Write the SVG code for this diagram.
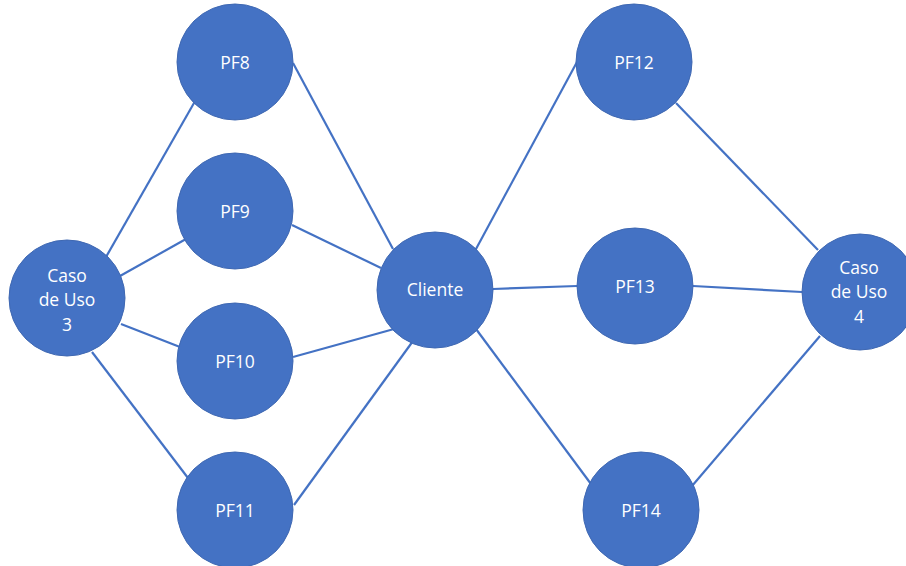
<svg xmlns="http://www.w3.org/2000/svg" width="906" height="566" viewBox="0 0 906 566">
<style>
.n{fill:#4472C4;stroke:#3F68B2;stroke-width:1}
.t{fill:#FFFFFF;font-family:"Open Sans","Liberation Sans",sans-serif;font-size:17.5px;text-anchor:middle}
.e line{stroke:#4472C4;stroke-width:2.2;fill:none}
</style>
<rect width="906" height="566" fill="#FFFFFF"/>
<g id="connectors" class="e">
<line x1="106" y1="257" x2="194" y2="103"/>
<line x1="120" y1="276" x2="186" y2="239"/>
<line x1="121" y1="324" x2="180" y2="347"/>
<line x1="92" y1="352" x2="188" y2="478"/>
<line x1="293" y1="63" x2="393" y2="249"/>
<line x1="292" y1="225" x2="381" y2="268"/>
<line x1="293" y1="357" x2="394" y2="329"/>
<line x1="294" y1="505" x2="413" y2="341"/>
<line x1="476" y1="249" x2="577" y2="62"/>
<line x1="493" y1="289" x2="577" y2="286"/>
<line x1="476" y1="329" x2="591" y2="484"/>
<line x1="676" y1="103" x2="818" y2="250"/>
<line x1="693" y1="286" x2="802" y2="292"/>
<line x1="692" y1="486" x2="820" y2="336"/>
</g>
<g id="cu3"><circle class="n" cx="67" cy="298" r="58"/><text class="t" x="67" y="282">Caso</text><text class="t" x="67" y="306">de Uso</text><text class="t" x="67" y="331">3</text></g>
<g id="pf8"><circle class="n" cx="235" cy="62" r="58"/><text class="t" x="235" y="69">PF8</text></g>
<g id="pf9"><circle class="n" cx="235" cy="211" r="58"/><text class="t" x="235" y="218">PF9</text></g>
<g id="pf10"><circle class="n" cx="235" cy="361" r="58"/><text class="t" x="235" y="368">PF10</text></g>
<g id="pf11"><circle class="n" cx="235" cy="510" r="58"/><text class="t" x="235" y="517">PF11</text></g>
<g id="cliente"><circle class="n" cx="435" cy="290" r="58"/><text class="t" x="435" y="296">Cliente</text></g>
<g id="pf12"><circle class="n" cx="634" cy="62" r="58"/><text class="t" x="634" y="69">PF12</text></g>
<g id="pf13"><circle class="n" cx="635" cy="286" r="58"/><text class="t" x="635" y="293">PF13</text></g>
<g id="pf14"><circle class="n" cx="641" cy="510" r="58"/><text class="t" x="641" y="517">PF14</text></g>
<g id="cu4"><circle class="n" cx="860" cy="292" r="58"/><text class="t" x="859" y="274">Caso</text><text class="t" x="859" y="298">de Uso</text><text class="t" x="859" y="323">4</text></g>
</svg>
